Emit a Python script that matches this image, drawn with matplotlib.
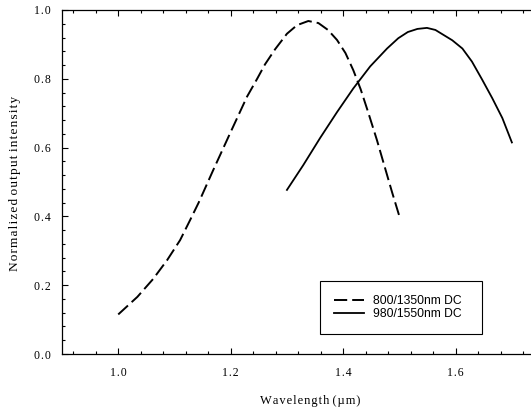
import matplotlib
matplotlib.use("Agg")
import matplotlib.pyplot as plt
from matplotlib.ticker import MultipleLocator

plt.rcParams['lines.scale_dashes'] = False

# Data
wl_dc800 = [1.0, 1.034, 1.062, 1.087, 1.11, 1.128, 1.143, 1.169, 1.199, 1.229, 1.247, 1.261,
            1.279, 1.30, 1.318, 1.338, 1.356, 1.373, 1.389, 1.404, 1.418, 1.431, 1.444, 1.46,
            1.471, 1.487, 1.5]
int_dc800 = [0.115, 0.166, 0.218, 0.273, 0.331, 0.39, 0.44, 0.535, 0.642, 0.748, 0.80, 0.842,
             0.886, 0.931, 0.956, 0.968, 0.962, 0.942, 0.913, 0.875, 0.825, 0.770, 0.705, 0.622,
             0.56, 0.47, 0.40]
wl_dc980 = [1.30, 1.329, 1.359, 1.389, 1.418, 1.448, 1.478, 1.498, 1.515, 1.532, 1.549, 1.564,
            1.578, 1.594, 1.612, 1.629, 1.647, 1.665, 1.683, 1.70]
int_dc980 = [0.477, 0.549, 0.628, 0.703, 0.772, 0.836, 0.888, 0.918, 0.936, 0.945, 0.948, 0.942,
             0.928, 0.912, 0.888, 0.850, 0.798, 0.744, 0.686, 0.615]
labels = ["800/1350nm DC", "980/1550nm DC"]
xticks = [1.0, 1.2, 1.4, 1.6]
yticks = [0.0, 0.2, 0.4, 0.6, 0.8, 1.0]

SERIF = ['Liberation Serif', 'DejaVu Serif']


def spaced(s):
    return "\u200a".join(s)


W, H = 531, 415
fig = plt.figure(figsize=(W / 100, H / 100), dpi=100)
ax = fig.add_axes([62 / W, 61 / H, (540 - 62) / W, (354 - 10) / H])

ax.plot(wl_dc800, int_dc800, color='black', lw=1.4, dashes=(9.5, 3.6), label=labels[0])
ax.plot(wl_dc980, int_dc980, color='black', lw=1.3, label=labels[1])

ax.set_xlim(0.9, 1.75)
ax.set_ylim(0.0, 1.0)
ax.set_xticks(xticks)
ax.set_yticks(yticks)
ax.xaxis.set_minor_locator(MultipleLocator(0.04))
ax.yaxis.set_minor_locator(MultipleLocator(0.04))
ax.set_xticklabels([spaced(f"{v:.1f}") for v in xticks], family=SERIF, fontsize=8.5, color='#333333')
ax.set_yticklabels([spaced(f"{v:.1f}") for v in yticks], family=SERIF, fontsize=8.5, color='#333333')
ax.tick_params(which='both', direction='in', top=True, right=False, colors='black', width=0.8)
ax.tick_params(axis='x', which='major', length=4.5, pad=9)
ax.tick_params(axis='y', which='major', length=4.5, pad=8)
ax.tick_params(which='minor', length=2.5)
ax.spines['right'].set_visible(False)
for s in ['left', 'bottom', 'top']:
    ax.spines[s].set_linewidth(0.9)

fig.text(310 / W, 1 - 401 / H, spaced("Wavelength") + " " + spaced("(µm)"), ha='center', va='center',
         fontsize=9, family=SERIF)
fig.text(15 / W, 1 - 183 / H, " ".join(spaced(w) for w in "Normalized output intensity".split()),
         ha='center', va='center', rotation=90, fontsize=9.6, family=SERIF)

leg = ax.legend(loc='upper left', bbox_to_anchor=((320 - 62) / (540 - 62), 1 - (281 - 10) / 344),
                frameon=True, fancybox=False, edgecolor='black', framealpha=1,
                prop={'family': 'Liberation Sans', 'size': 8.7}, handlelength=2.5,
                borderpad=1.15, labelspacing=0.12, handletextpad=0.7, borderaxespad=0)
leg.get_frame().set_linewidth(0.8)
for t in leg.get_texts():
    t.set_text(t.get_text() + "  ")

fig.savefig("out.png", dpi=100)
